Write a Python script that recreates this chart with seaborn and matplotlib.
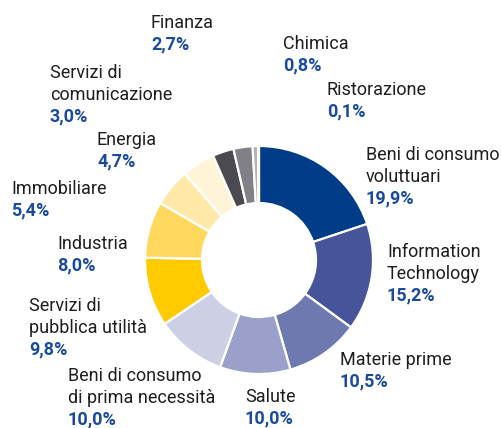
import matplotlib
matplotlib.use("Agg")
import matplotlib.pyplot as plt
import seaborn as sns

# settori e pesi (%), in senso orario da ore 12
settori = ["Beni di consumo\nvoluttuari", "Information\nTechnology", "Materie prime", "Salute",
           "Beni di consumo\ndi prima necessità", "Servizi di\npubblica utilità", "Industria",
           "Immobiliare", "Energia", "Servizi di\ncomunicazione", "Finanza", "Chimica", "Ristorazione"]
pesi = [19.9, 15.2, 10.5, 10.0, 10.0, 9.8, 8.0, 5.4, 4.7, 3.0, 2.7, 0.8, 0.1]
colori = ["#003c87", "#46559a", "#6e79af", "#9aa0c9", "#cdd0e5", "#ffcb00", "#ffd95e",
          "#ffe8a8", "#fff3d8", "#4a4a50", "#808086", "#b2b2b6", "#d9d9dc"]

# posizione etichette (pixel: x sinistra, baseline prima riga)
pos_etichette = [(366, 160), (387, 257), (340, 365), (245, 402), (68, 381), (29, 311),
                 (57, 249), (11, 194), (97, 145), (50, 78), (151, 28), (283, 49), (327, 95)]

W, H = 502, 428
sns.set_theme(style="white")
plt.rcParams['font.family'] = ['Roboto', 'DejaVu Sans']

fig = plt.figure(figsize=(W / 100, H / 100), dpi=100)
ax = fig.add_axes([145 / W, (H - 374) / H, 228 / W, 228 / H])
ax.pie(pesi, colors=colori, startangle=90, counterclock=False,
       wedgeprops=dict(width=0.5, edgecolor="white", linewidth=1.6))
ax.set_xlim(-1, 1)
ax.set_ylim(-1, 1)
ax.axis("off")

passo = 21.6
for nome, v, (x, yb) in zip(settori, pesi, pos_etichette):
    righe = nome.split("\n")
    for i, r in enumerate(righe):
        fig.text(x / W, 1 - (yb + i * passo) / H, r, fontsize=13, color="#1e1e1e",
                 ha="left", va="baseline")
    val = f"{v:.1f}".replace(".", ",") + "%"
    fig.text(x / W, 1 - (yb + len(righe) * passo) / H, val, fontsize=13,
             fontweight="bold", color="#1a4b9b", ha="left", va="baseline")

fig.savefig("out.png", dpi=100)
